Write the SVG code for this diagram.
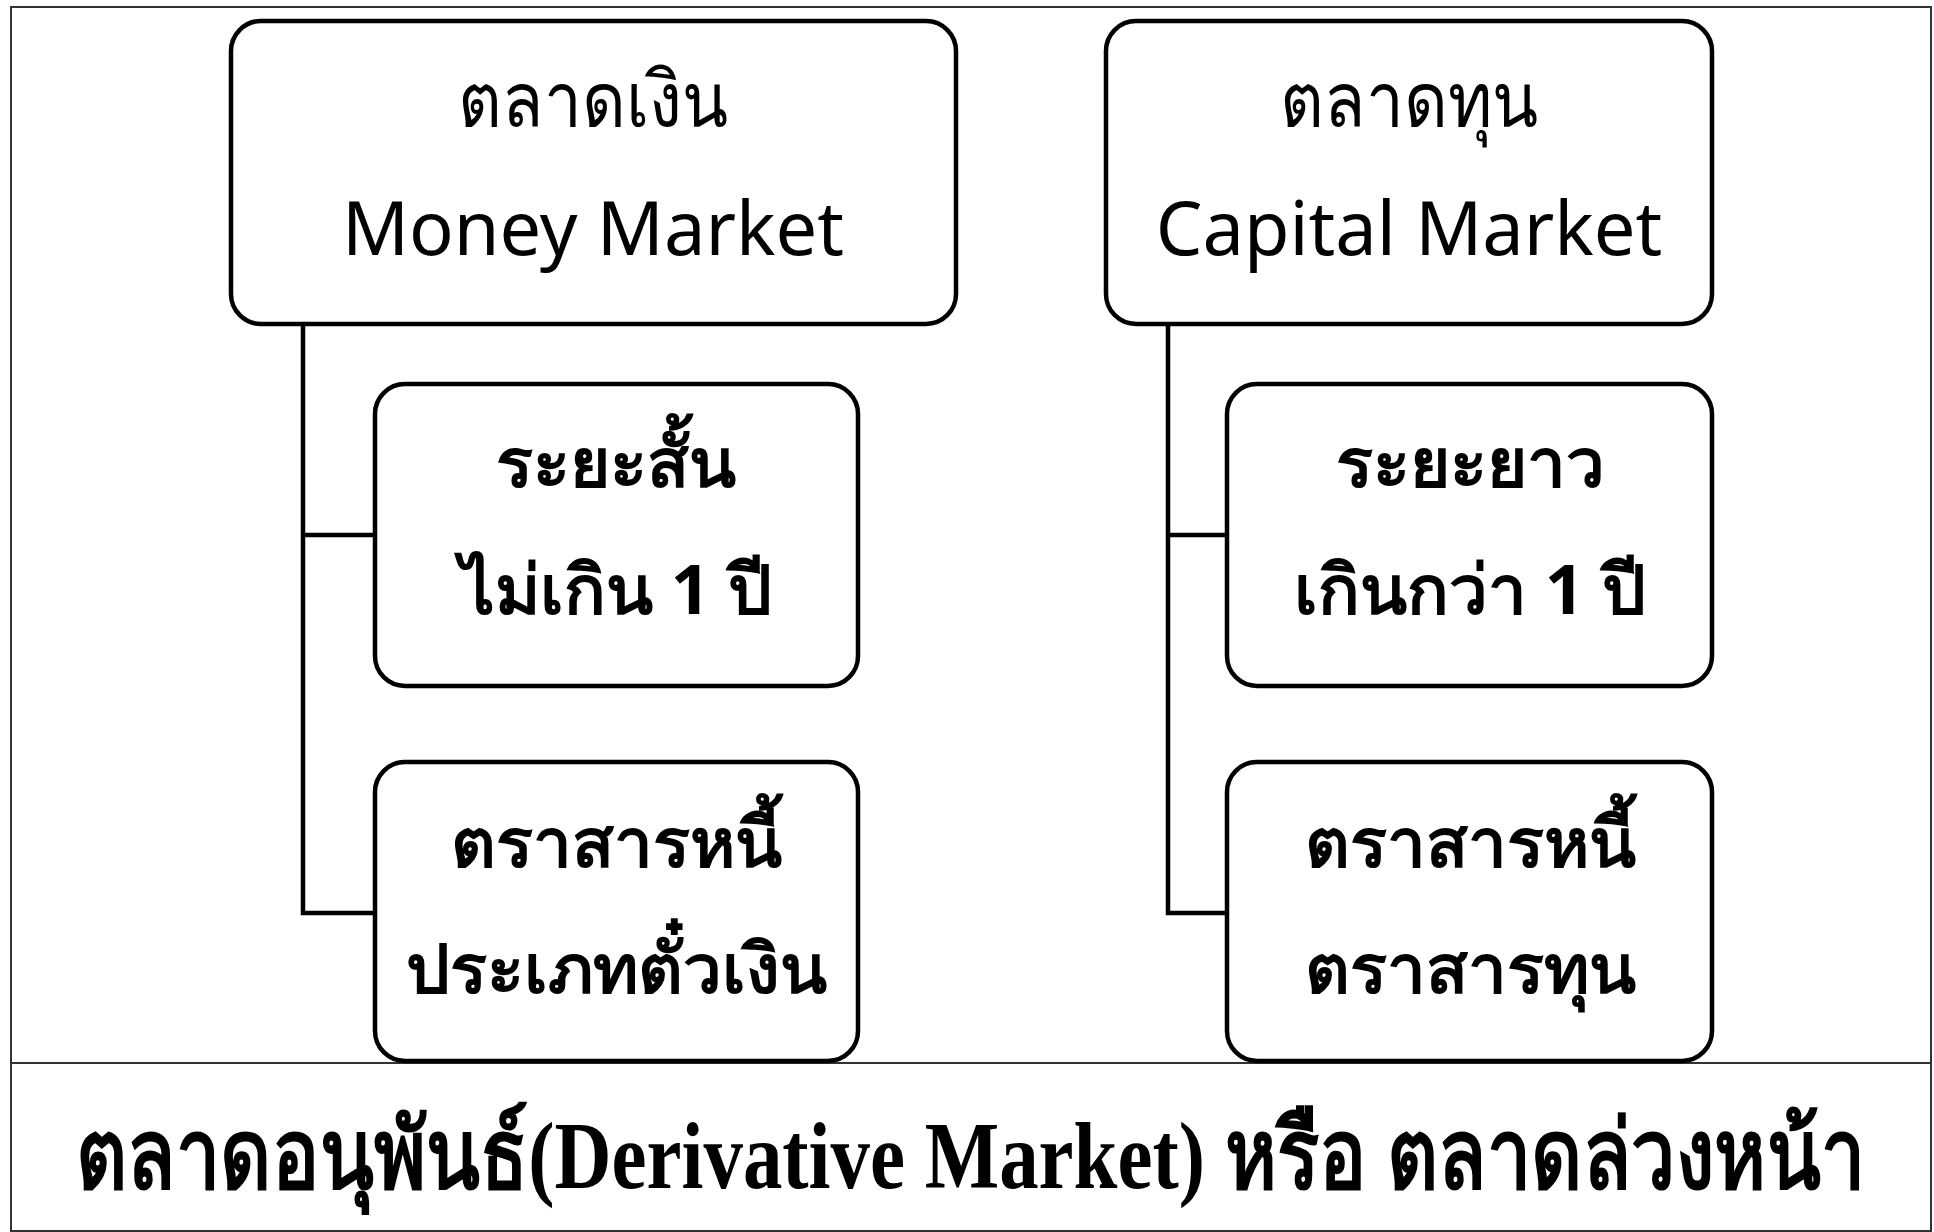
<svg xmlns="http://www.w3.org/2000/svg" width="1934" height="1232" viewBox="0 0 1934 1232">
<style>
.frame{fill:none;stroke:#333;stroke-width:2}
.box{fill:#fff;stroke:#000;stroke-width:4.5}
.conn{fill:none;stroke:#000;stroke-width:4.5}
.t1{font-family:"Noto Sans","DejaVu Sans",sans-serif;font-size:74px;fill:#000;text-anchor:middle}
.th1{font-family:"Noto Sans","DejaVu Sans",sans-serif;font-size:78px;fill:#000;text-anchor:middle}
.t2{font-family:"Noto Sans","DejaVu Sans",sans-serif;font-size:69px;font-weight:bold;fill:#000;text-anchor:middle}
.t3{font-family:"Liberation Serif","DejaVu Serif",serif;font-size:74px;font-weight:bold;fill:#000}
</style>
<rect width="1934" height="1232" fill="#fff"/>
<rect class="frame" x="11" y="7" width="1920" height="1224"/>
<line class="frame" x1="11" y1="1063" x2="1931" y2="1063"/>
<g id="connectors">
<polyline class="conn" points="303,324 303,913 375,913"/>
<line class="conn" x1="303" y1="535" x2="375" y2="535"/>
<polyline class="conn" points="1168,324 1168,913 1227,913"/>
<line class="conn" x1="1168" y1="535" x2="1227" y2="535"/>
</g>
<g id="money-market">
<rect class="box" x="231" y="21" width="725" height="303" rx="30"/>
<text class="th1" x="593" y="127" textLength="270" lengthAdjust="spacingAndGlyphs">ตลาดเงิน</text>
<text class="t1" x="593" y="255">Money Market</text>
</g>
<g id="capital-market">
<rect class="box" x="1106" y="21" width="606" height="303" rx="30"/>
<text class="th1" x="1409" y="127" textLength="258" lengthAdjust="spacingAndGlyphs">ตลาดทุน</text>
<text class="t1" x="1409" y="255">Capital Market</text>
</g>
<g id="short-term">
<rect class="box" x="375" y="384" width="483" height="302" rx="30"/>
<text class="t2" x="616" y="487">ระยะสั้น</text>
<text class="t2" x="616" y="614">ไม่เกิน 1 ปี</text>
</g>
<g id="money-instruments">
<rect class="box" x="375" y="762" width="483" height="299" rx="30"/>
<text class="t2" x="616" y="867">ตราสารหนี้</text>
<text class="t2" x="616" y="993">ประเภทตั๋วเงิน</text>
</g>
<g id="long-term">
<rect class="box" x="1227" y="384" width="485" height="302" rx="30"/>
<text class="t2" x="1470" y="487">ระยะยาว</text>
<text class="t2" x="1470" y="614">เกินกว่า 1 ปี</text>
</g>
<g id="capital-instruments">
<rect class="box" x="1227" y="762" width="485" height="299" rx="30"/>
<text class="t2" x="1470" y="867">ตราสารหนี้</text>
<text class="t2" x="1470" y="993">ตราสารทุน</text>
</g>
<g id="derivative-market">
<text class="t3" transform="translate(76,1188) scale(1,1.3)" x="0" y="0" textLength="1789" lengthAdjust="spacingAndGlyphs">ตลาดอนุพันธ์(Derivative Market) หรือ ตลาดล่วงหน้า</text>
</g>
</svg>
